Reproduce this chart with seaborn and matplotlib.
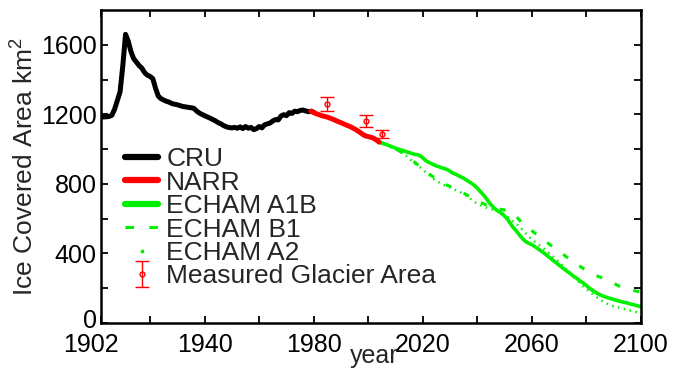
import numpy as np
import pandas as pd
import matplotlib
matplotlib.use("Agg")
import matplotlib.pyplot as plt
import matplotlib.transforms as mtransforms
from matplotlib.lines import Line2D
import seaborn as sns

# ---------------- data ----------------
cru_years = list(range(1902, 1981))
cru_area = [1185, 1185, 1186, 1188, 1195, 1230, 1280, 1330, 1480, 1660,
            1620, 1560, 1520, 1500, 1480, 1465, 1440, 1425, 1418, 1405,
            1350, 1305, 1290, 1282, 1275, 1270, 1262, 1258, 1255, 1250,
            1245, 1243, 1240, 1238, 1235, 1220, 1208, 1200, 1192, 1185,
            1178, 1170, 1162, 1152, 1145, 1135, 1128, 1124, 1122, 1125,
            1120, 1128, 1118, 1130, 1120, 1125, 1112, 1118, 1130, 1122,
            1140, 1145, 1150, 1162, 1170, 1168, 1190, 1198, 1192, 1210,
            1205, 1218, 1215, 1222, 1225, 1220, 1215, 1218, 1212]

narr_years = list(range(1979, 2005))
narr_area = [1218, 1210, 1203, 1198, 1192, 1188, 1184, 1178, 1172, 1165,
             1158, 1152, 1145, 1138, 1132, 1124, 1116, 1106, 1096, 1084,
             1076, 1072, 1068, 1062, 1052, 1040]

proj_years = list(range(2004, 2101))
a1b_area = [1040, 1035, 1030, 1024, 1018, 1012, 1006, 1000, 995, 990,
            985, 980, 975, 970, 968, 962, 950, 935, 925, 918,
            910, 903, 898, 892, 888, 882, 872, 862, 856, 848,
            840, 832, 822, 812, 802, 790, 775, 758, 740, 722,
            700, 680, 664, 650, 640, 628, 615, 598, 575, 552,
            535, 515, 495, 478, 465, 458, 450, 440, 430, 418,
            408, 395, 382, 370, 357, 345, 332, 320, 308, 296,
            285, 272, 262, 250, 238, 228, 215, 202, 190, 180,
            170, 162, 155, 150, 144, 140, 135, 130, 126, 122,
            118, 115, 110, 106, 102, 98, 94]
b1_area = [1040, 1034, 1028, 1021, 1014, 1007, 1000, 992, 984, 975,
           964, 952, 938, 925, 912, 900, 888, 875, 862, 850,
           838, 828, 818, 808, 800, 792, 785, 778, 770, 762,
           754, 746, 738, 728, 718, 708, 700, 695, 688, 680,
           674, 668, 664, 660, 655, 652, 650, 648, 645, 635,
           618, 600, 582, 565, 550, 540, 530, 518, 505, 492,
           480, 470, 458, 446, 434, 422, 410, 400, 388, 376,
           364, 352, 342, 332, 322, 312, 302, 294, 286, 278,
           270, 264, 258, 250, 244, 236, 228, 220, 212, 206,
           200, 196, 192, 188, 184, 181, 178]
a2_area = [1040, 1034, 1028, 1020, 1012, 1005, 998, 990, 982, 972,
           960, 948, 932, 918, 905, 895, 882, 868, 855, 840,
           828, 818, 808, 800, 792, 786, 780, 772, 765, 757,
           750, 742, 732, 720, 708, 696, 685, 678, 672, 665,
           660, 655, 650, 645, 638, 632, 625, 612, 598, 585,
           572, 560, 545, 528, 510, 495, 480, 468, 455, 443,
           432, 420, 406, 392, 378, 364, 350, 335, 318, 302,
           286, 270, 255, 240, 222, 208, 195, 182, 170, 158,
           146, 135, 125, 116, 108, 102, 96, 92, 88, 84,
           80, 76, 72, 68, 64, 60, 55]

meas_years = [1985, 1999, 2005]
meas_area = [1260, 1163, 1088]
meas_err = [38, 36, 24]

xtick_pos = [1902, 1920, 1940, 1960, 1980, 2000, 2020, 2040, 2060, 2080, 2100]
xtick_lab = ["1902", "", "1940", "", "1980", "", "2020", "", "2060", "", "2100"]
ytick_pos = [0, 200, 400, 600, 800, 1000, 1200, 1400, 1600]
ytick_lab = ["0", "", "400", "", "800", "", "1200", "", "1600"]

labels = ["CRU", "NARR", "ECHAM A1B", "ECHAM B1", "ECHAM A2",
          "Measured Glacier Area"]

# ---------------- style ----------------
sns.set_theme(style="ticks")
plt.rcParams["font.family"] = ["Liberation Sans", "DejaVu Sans"]
plt.rcParams["mathtext.fontset"] = "custom"
plt.rcParams["mathtext.rm"] = "Liberation Sans"
plt.rcParams["mathtext.it"] = "Liberation Sans"

GREEN = "#00f000"
RED = "#ff0000"

fig = plt.figure(figsize=(6.74, 3.75), dpi=100)
ax = fig.add_axes([101 / 674, (375 - 323) / 375, 540 / 674, 313 / 375])

B1_DASH = (0, (2.0, 4.5))
A2_DOT = (0, (0.6, 1.8))

sns.lineplot(x=proj_years, y=b1_area, ax=ax, color=GREEN, lw=2.2,
             linestyle=B1_DASH)
sns.lineplot(x=proj_years, y=a2_area, ax=ax, color=GREEN, lw=1.8,
             linestyle=A2_DOT)
sns.lineplot(x=proj_years, y=a1b_area, ax=ax, color=GREEN, lw=2.6)
sns.lineplot(x=cru_years, y=cru_area, ax=ax, color="black", lw=3.6)
sns.lineplot(x=narr_years, y=narr_area, ax=ax, color=RED, lw=3.6)
meas = ax.errorbar(meas_years, meas_area, yerr=meas_err, fmt="o", color=RED,
                   mfc="none", mec=RED, ms=3.5, mew=1.0, elinewidth=1.0,
                   capsize=5, capthick=1.0)

ax.set_xlim(1902, 2100)
ax.set_ylim(0, 1800)
ax.set_xticks(xtick_pos)
ax.set_xticklabels(xtick_lab)
ax.set_yticks(ytick_pos)
ax.set_yticklabels(ytick_lab)
ax.tick_params(direction="in", length=5, width=1.3, top=True, right=True,
               labelsize=18, colors="black")
ax.tick_params(axis="x", pad=7)
ax.tick_params(axis="y", pad=3)
for s in ax.spines.values():
    s.set_linewidth(1.8)
    s.set_color("black")
ax.grid(False)

# first x label sits left of the axis corner, "0" sits a bit above its tick
lbl = ax.get_xticklabels()[0]
lbl.set_transform(lbl.get_transform() +
                  mtransforms.ScaledTranslation(-0.10, 0, fig.dpi_scale_trans))
lbl0 = ax.get_yticklabels()[0]
lbl0.set_transform(lbl0.get_transform() +
                   mtransforms.ScaledTranslation(0, 0.05, fig.dpi_scale_trans))

ax.set_xlabel("year", fontsize=18)
ax.xaxis.set_label_coords(0.505, -0.068)
ax.set_ylabel("Ice Covered Area km$^2$", fontsize=19)
ax.yaxis.set_label_coords(-0.115, 0.5)

handles = [
    Line2D([], [], color="black", lw=4.5),
    Line2D([], [], color=RED, lw=4.5),
    Line2D([], [], color=GREEN, lw=4.5),
    Line2D([], [], color=GREEN, lw=2.2, linestyle=(0, (2.8, 5.0))),
    Line2D([], [], color=GREEN, lw=0, marker=".", ms=3.5),
    meas,
]
ax.legend(handles, labels, loc="upper left",
          bbox_to_anchor=(0.045, 0.562), frameon=False, fontsize=19,
          handlelength=1.25, handletextpad=0.3, labelspacing=-0.02,
          borderaxespad=0, borderpad=0)

fig.savefig("out.png", dpi=100)
